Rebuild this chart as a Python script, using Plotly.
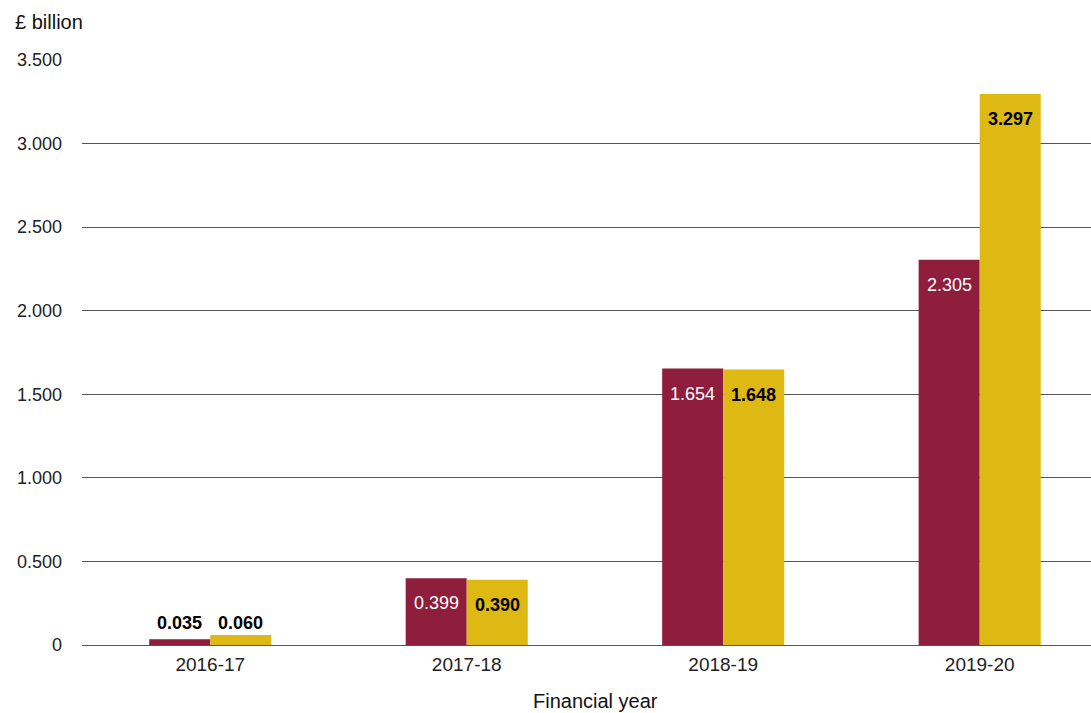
import plotly.graph_objects as go

years = ["2016-17", "2017-18", "2018-19", "2019-20"]
series_a = [0.035, 0.399, 1.654, 2.305]
series_b = [0.060, 0.390, 1.648, 3.297]
ytick_vals = [0, 0.5, 1.0, 1.5, 2.0, 2.5, 3.0, 3.5]
ytick_text = ["0", "0.500", "1.000", "1.500", "2.000", "2.500", "3.000", "3.500"]

MAROON = "#8F1D3C"
YELLOW = "#DEB813"
FONT = "Liberation Sans, Arial, sans-serif"

fig = go.Figure()
fig.add_trace(go.Bar(x=years, y=series_a, name="Series A", marker_color=MAROON,
                     marker_line_width=0, hoverinfo="x+y"))
fig.add_trace(go.Bar(x=years, y=series_b, name="Series B", marker_color=YELLOW,
                     marker_line_width=0, hoverinfo="x+y"))

BAR_PX = 61
annotations = []
for i, yr in enumerate(years):
    group_max = max(series_a[i], series_b[i])
    for val, sign, col, bold in ((series_a[i], -1, "white", False), (series_b[i], 1, "black", True)):
        inside = val > 0.2
        txt = f"{val:.3f}"
        if bold or not inside:
            txt = f"<b>{txt}</b>"
        annotations.append(dict(
            x=yr, y=val if inside else group_max, xref="x", yref="y",
            text=txt, showarrow=False, xshift=sign * BAR_PX / 2,
            yshift=-25 if inside else 12,
            font=dict(size=18, color=(col if inside else "black"), family=FONT),
            xanchor="center", yanchor="middle",
        ))

annotations.append(dict(text="£ billion", xref="paper", yref="paper", x=-0.0684, y=1.0,
                        yshift=38, xanchor="left", yanchor="middle", showarrow=False,
                        font=dict(size=20, color="#111", family=FONT)))
annotations.append(dict(text="Financial year", xref="paper", yref="paper",
                        x=(595 - 82) / (1091 - 82), y=0, yshift=-56,
                        xanchor="center", yanchor="middle", showarrow=False,
                        font=dict(size=20, color="#111", family=FONT)))

fig.update_layout(
    width=1091, height=713,
    margin=dict(l=82, r=0, t=60, b=68),
    paper_bgcolor="white", plot_bgcolor="white",
    barmode="group", bargap=0.524, bargroupgap=0,
    showlegend=False,
    font=dict(family=FONT, size=18, color="#222"),
    annotations=annotations,
    xaxis=dict(range=[-0.5, 3.434], showgrid=False, showline=False, zeroline=False,
               ticks="", ticklabelstandoff=6, tickfont=dict(size=19, color="#222")),
    yaxis=dict(range=[0, 3.5], tickvals=ytick_vals, ticktext=ytick_text,
               showgrid=True, gridcolor="#555", gridwidth=1, zeroline=True,
               zerolinecolor="#555", zerolinewidth=1, showline=False, ticks="",
               ticklabelstandoff=19, tickfont=dict(size=18, color="#222")),
)

fig.write_html("out.html", config={"displayModeBar": False},
               post_script="document.body.style.margin='0';document.body.style.overflow='hidden';")
